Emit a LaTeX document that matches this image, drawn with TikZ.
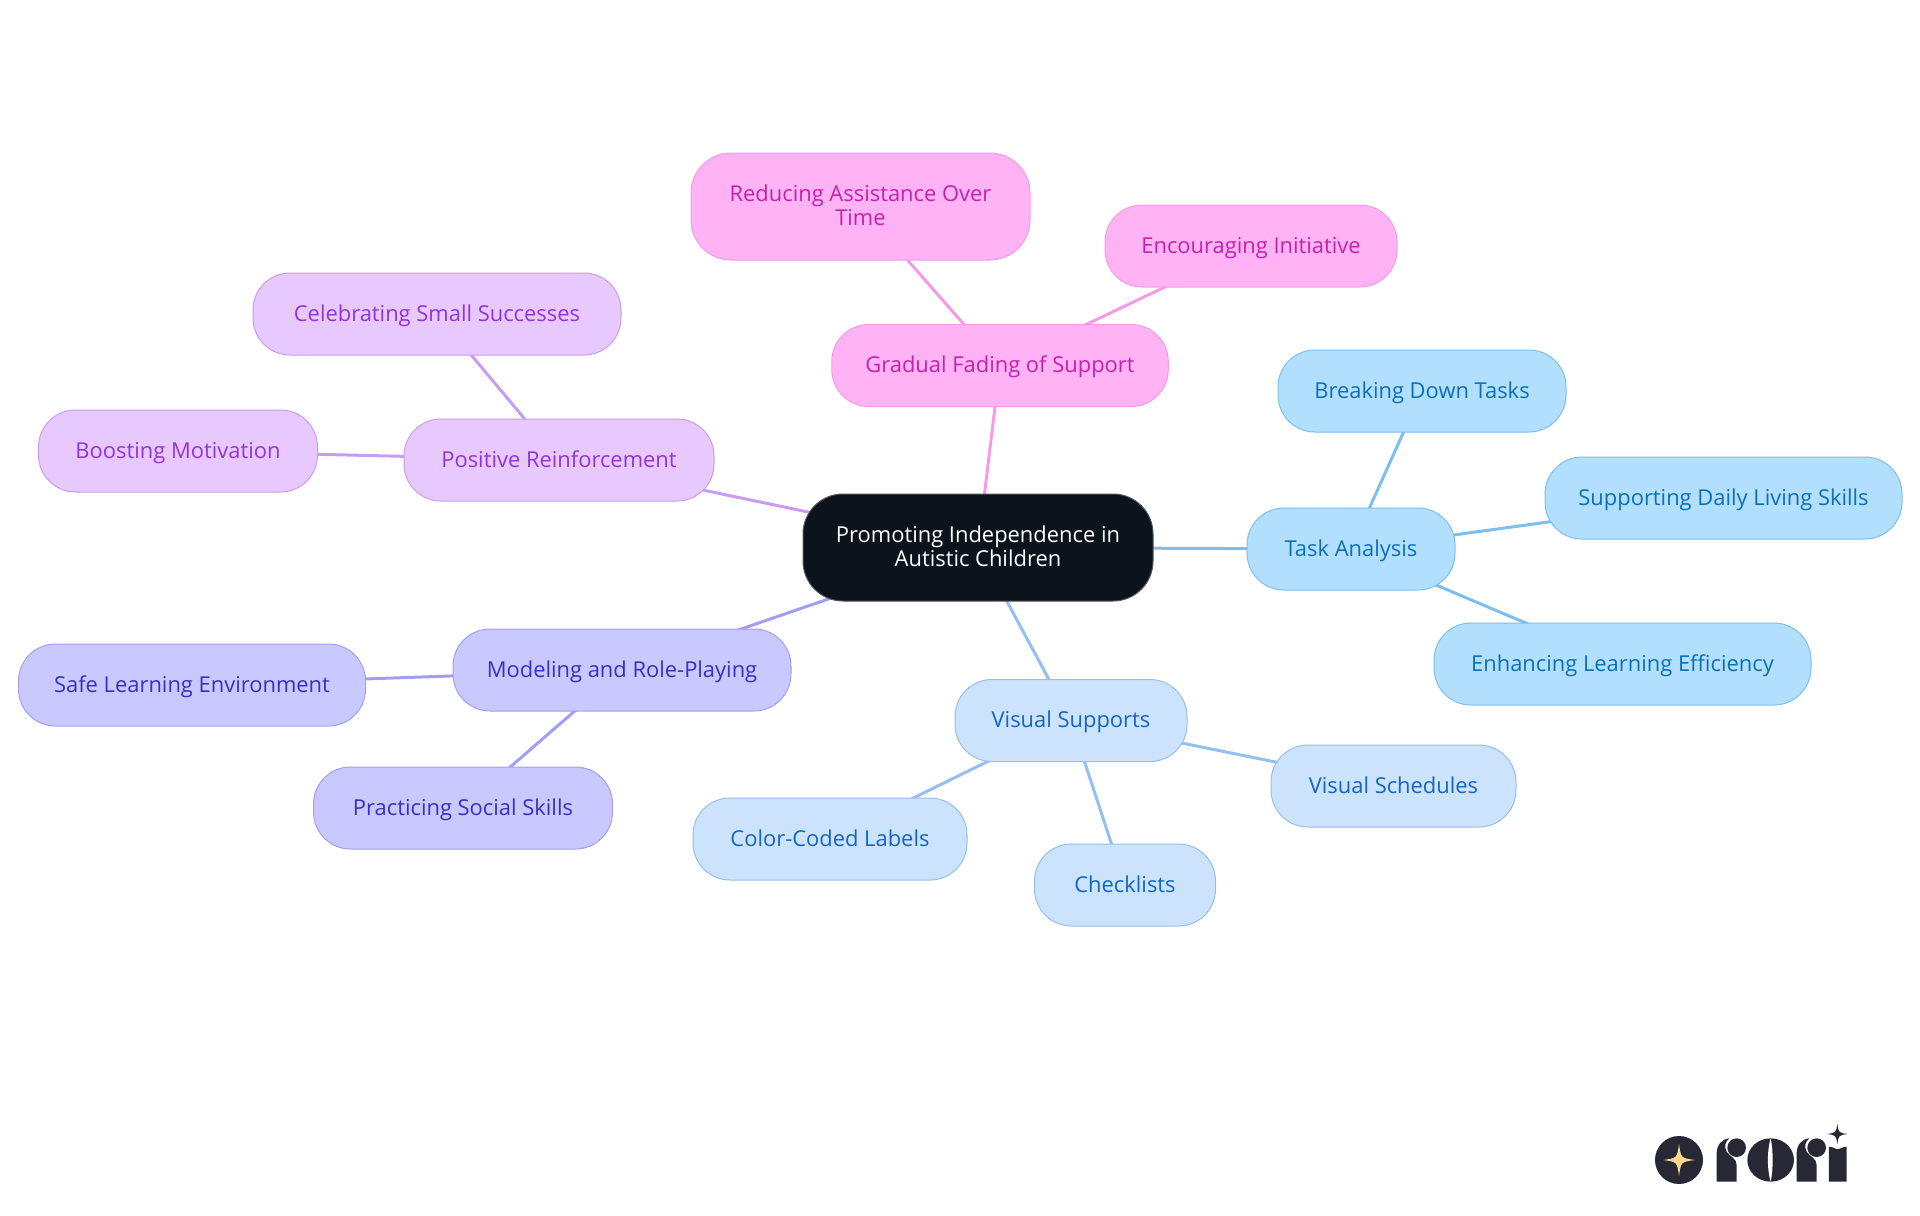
\documentclass[tikz,border=0pt]{standalone}
\usepackage{fontspec}
\setmainfont{Open Sans}
\usetikzlibrary{backgrounds}
\definecolor{rootfill}{HTML}{0C131C}
\definecolor{rootline}{HTML}{50555C}
\definecolor{taskfill}{HTML}{B3DFFF}
\definecolor{taskline}{HTML}{7CBFEF}
\definecolor{tasktext}{HTML}{0B70B8}
\definecolor{visufill}{HTML}{CCE3FD}
\definecolor{visuline}{HTML}{94BFF0}
\definecolor{visutext}{HTML}{1565C4}
\definecolor{modefill}{HTML}{C9C9FF}
\definecolor{modeline}{HTML}{A09FF2}
\definecolor{modetext}{HTML}{3730C4}
\definecolor{posifill}{HTML}{E8C9FF}
\definecolor{posiline}{HTML}{C79CF2}
\definecolor{positext}{HTML}{9333D8}
\definecolor{gradfill}{HTML}{FFB3F5}
\definecolor{gradline}{HTML}{F59BE6}
\definecolor{gradtext}{HTML}{C71FB0}
\definecolor{logodark}{HTML}{282735}
\definecolor{logogold}{HTML}{FBD98A}
\tikzset{
  mapbox/.style={rectangle,rounded corners=37bp,line width=1bp,inner sep=0pt,
    minimum height=82bp,align=center,text height=16bp,text depth=2bp,
    font=\fontsize{22}{24}\selectfont},
  twolines/.style={minimum height=107bp,text height=43bp,text depth=5bp,rounded corners=40bp},
  taskbox/.style={mapbox,draw=taskline,fill=taskfill,text=tasktext},
  visubox/.style={mapbox,draw=visuline,fill=visufill,text=visutext},
  modebox/.style={mapbox,draw=modeline,fill=modefill,text=modetext},
  posibox/.style={mapbox,draw=posiline,fill=posifill,text=positext},
  gradbox/.style={mapbox,draw=gradline,fill=gradfill,text=gradtext},
  rootbox/.style={mapbox,draw=rootline,fill=rootfill,text=white},
  link/.style={line width=3bp}
}
\newcommand{\logostar}[4]{%
  \fill[#4] (#1,#2-#3) .. controls (#1+.12*#3,#2-.12*#3) .. (#1+#3,#2)
    .. controls (#1+.12*#3,#2+.12*#3) .. (#1,#2+#3)
    .. controls (#1-.12*#3,#2+.12*#3) .. (#1-#3,#2)
    .. controls (#1-.12*#3,#2-.12*#3) .. cycle;}
\begin{document}
\begin{tikzpicture}[x=1bp,y=-1bp]
  \useasboundingbox (0,0) rectangle (1920,1215);
  % Node: root
  \node[rootbox,twolines,minimum width=350bp] (root) at (978,547.5) {Promoting Independence in\\Autistic Children};
  % Node: Task Analysis
  \node[taskbox,minimum width=208bp] (task) at (1351,549) {Task Analysis};
  \node[taskbox,minimum width=288bp] (breaking) at (1422,391) {Breaking Down Tasks};
  \node[taskbox,minimum width=357bp] (daily) at (1723.5,498) {Supporting Daily Living Skills};
  \node[taskbox,minimum width=377bp] (efficiency) at (1622.5,664) {Enhancing Learning Efficiency};
  % Node: Visual Supports
  \node[visubox,minimum width=232bp] (visual) at (1071,720.5) {Visual Supports};
  \node[visubox,minimum width=245bp] (schedules) at (1393.5,786) {Visual Schedules};
  \node[visubox,minimum width=181bp] (checklists) at (1125,885) {Checklists};
  \node[visubox,minimum width=274bp] (labels) at (830,839) {Color-Coded Labels};
  % Node: Modeling
  \node[modebox,minimum width=338bp] (modeling) at (622,670) {Modeling and Role-Playing};
  \node[modebox,minimum width=347bp] (safe) at (192,685) {Safe Learning Environment};
  \node[modebox,minimum width=299bp] (social) at (463,808) {Practicing Social Skills};
  % Node: Positive Reinforcement
  \node[posibox,minimum width=310bp] (positive) at (559,460) {Positive Reinforcement};
  \node[posibox,minimum width=368bp] (small) at (437,314) {Celebrating Small Successes};
  \node[posibox,minimum width=279bp] (motivation) at (178,451) {Boosting Motivation};
  % Node: Gradual Fading
  \node[gradbox,minimum width=336.5bp] (gradual) at (1000,365.5) {Gradual Fading of Support};
  \node[gradbox,twolines,minimum width=339bp] (reducing) at (860.5,206.5) {Reducing Assistance Over\\Time};
  \node[gradbox,minimum width=292bp] (initiative) at (1251,246) {Encouraging Initiative};
  % Edges
  \begin{scope}[on background layer]
    \draw[link,taskline] (root.center) -- (task.center);
    \draw[link,taskline] (task.center) -- (breaking.center);
    \draw[link,taskline] (task.center) -- (daily.center);
    \draw[link,taskline] (task.center) -- (efficiency.center);
    \draw[link,visuline] (root.center) -- (visual.center);
    \draw[link,visuline] (visual.center) -- (schedules.center);
    \draw[link,visuline] (visual.center) -- (checklists.center);
    \draw[link,visuline] (visual.center) -- (labels.center);
    \draw[link,modeline] (root.center) -- (modeling.center);
    \draw[link,modeline] (modeling.center) -- (safe.center);
    \draw[link,modeline] (modeling.center) -- (social.center);
    \draw[link,posiline] (root.center) -- (positive.center);
    \draw[link,posiline] (positive.center) -- (small.center);
    \draw[link,posiline] (positive.center) -- (motivation.center);
    \draw[link,gradline] (root.center) -- (gradual.center);
    \draw[link,gradline] (gradual.center) -- (reducing.center);
    \draw[link,gradline] (gradual.center) -- (initiative.center);
  \end{scope}
  % Logo
  \begin{scope}[shift={(1620,1100)},x=0.3333bp,y=-0.3333bp]
    \fill[logodark] (177,180) circle (72);
    \logostar{177}{180}{48}{logogold}
    \fill[logodark] (290,245) -- (290,160) .. controls (290,135) and (305,117) .. (328,115)
      .. controls (315,125) and (312,140) .. (320,155) .. controls (330,170) and (350,175) .. (350,195) -- (350,245) -- cycle;
    \fill[logodark] (350,143) circle (28);
    \fill[logodark] (452,180) ellipse (70 and 65);
    \fill[white] (452,115) .. controls (441,150) and (441,210) .. (452,245) .. controls (460,210) and (460,150) .. cycle;
    \fill[logodark] (530,245) -- (530,160) .. controls (530,135) and (545,117) .. (568,115)
      .. controls (555,125) and (552,140) .. (560,155) .. controls (570,170) and (590,175) .. (590,195) -- (590,245) -- cycle;
    \fill[logodark] (590,143) circle (28);
    \fill[logodark] (627,245) -- (627,140) .. controls (640,140) and (645,148) .. (653,148) .. controls (661,148) and (667,140) .. (680,140) -- (680,245) -- cycle;
    \logostar{652}{102}{31}{logodark}
  \end{scope}
\end{tikzpicture}
\end{document}
